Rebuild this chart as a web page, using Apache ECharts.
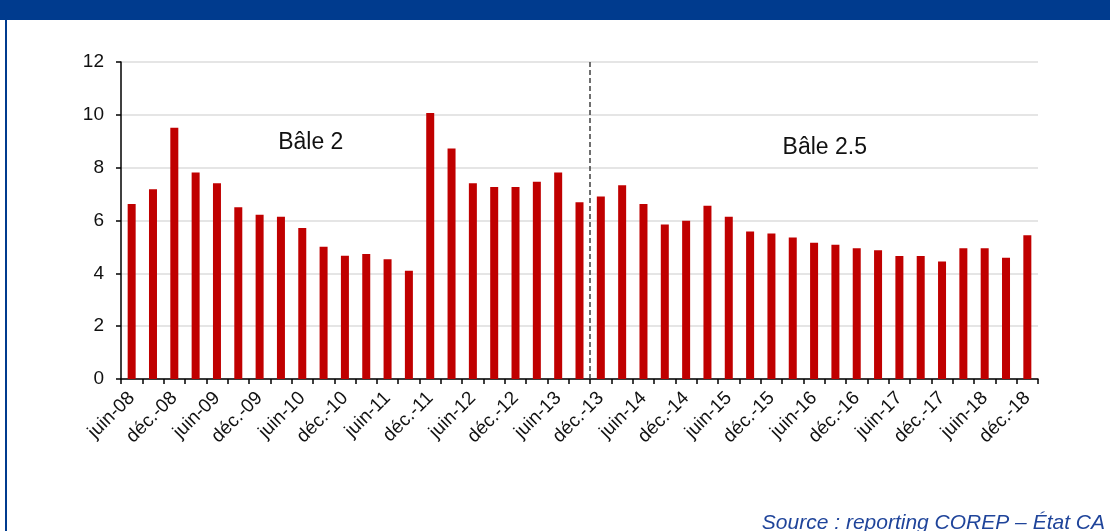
<!DOCTYPE html>
<html>
<head>
<meta charset="utf-8">
<script src="https://cdn.jsdelivr.net/npm/echarts@6/dist/echarts.min.js"></script>
<style>
  html, body { margin: 0; padding: 0; background: #ffffff; }
  #chart { width: 1110px; height: 531px; }
</style>
</head>
<body>
<div id="chart"></div>
<script>
// Quarterly periods, June 2008 to December 2018
const quarters = [
  'juin-08', 'sept.-08', 'déc.-08',
  'mars-09', 'juin-09', 'sept.-09', 'déc.-09',
  'mars-10', 'juin-10', 'sept.-10', 'déc.-10',
  'mars-11', 'juin-11', 'sept.-11', 'déc.-11',
  'mars-12', 'juin-12', 'sept.-12', 'déc.-12',
  'mars-13', 'juin-13', 'sept.-13', 'déc.-13',
  'mars-14', 'juin-14', 'sept.-14', 'déc.-14',
  'mars-15', 'juin-15', 'sept.-15', 'déc.-15',
  'mars-16', 'juin-16', 'sept.-16', 'déc.-16',
  'mars-17', 'juin-17', 'sept.-17', 'déc.-17',
  'mars-18', 'juin-18', 'sept.-18', 'déc.-18'
];

// Ratio per quarter
const ratios = [
  6.62, 7.18, 9.51,
  7.82, 7.41, 6.50, 6.22,
  6.14, 5.72, 5.01, 4.67,
  4.73, 4.53, 4.10, 10.07,
  8.73, 7.41, 7.27, 7.27,
  7.47, 7.82, 6.69, 6.91,
  7.33, 6.62, 5.85, 5.99,
  6.56, 6.14, 5.58, 5.51,
  5.36, 5.16, 5.08, 4.95,
  4.87, 4.66, 4.66, 4.45,
  4.95, 4.95, 4.59, 5.44
];

// Regulatory regime boundary (in category slots) and regime labels [x slot, y value, text]
const regimeBoundary = 22;
const regimeLabels = [
  [8.9, 8.93, 'Bâle 2'],
  [33.0, 8.74, 'Bâle 2.5']
];

const yTicks = { min: 0, max: 12, step: 2 };
const sourceNote = 'Source : reporting COREP – État CA';

const FONT = "'Liberation Sans', Arial, sans-serif";

const chart = echarts.init(document.getElementById('chart'), null, { renderer: 'canvas' });

chart.setOption({
  animation: false,
  backgroundColor: '#ffffff',
  grid: { left: 121, right: 72, top: 62, bottom: 152, containLabel: false },
  xAxis: [
    {
      type: 'category',
      data: quarters,
      boundaryGap: true,
      axisLine: { lineStyle: { color: '#000000', width: 1.5 } },
      axisTick: { show: true, interval: 0, length: 5, lineStyle: { color: '#000000', width: 1.5 } },
      axisLabel: {
        interval: 1,
        rotate: 45,
        margin: 16,
        color: '#111111',
        fontFamily: FONT,
        fontSize: 19
      },
      splitLine: { show: false }
    },
    {
      type: 'value',
      min: 0,
      max: quarters.length,
      show: false
    }
  ],
  yAxis: {
    type: 'value',
    min: yTicks.min,
    max: yTicks.max,
    interval: yTicks.step,
    axisLine: { show: true, lineStyle: { color: '#000000', width: 1.5 } },
    axisTick: { show: true, length: 5, lineStyle: { color: '#000000', width: 1.5 } },
    axisLabel: { margin: 17, color: '#111111', fontFamily: FONT, fontSize: 19 },
    splitLine: { show: true, lineStyle: { color: '#dcdcdc', width: 1.5 } }
  },
  series: [
    {
      type: 'bar',
      data: ratios,
      barWidth: 8,
      itemStyle: { color: '#c00000' },
      z: 2
    },
    {
      type: 'scatter',
      xAxisIndex: 1,
      data: regimeLabels,
      symbolSize: 0,
      silent: true,
      itemStyle: { opacity: 1 },
      label: {
        show: true,
        position: 'inside',
        formatter: p => p.data[2],
        color: '#111111',
        fontFamily: FONT,
        fontSize: 23
      },
      markLine: {
        silent: true,
        symbol: ['none', 'none'],
        label: { show: false },
        lineStyle: { color: '#404040', type: [5, 3], width: 1.5 },
        data: [{ xAxis: regimeBoundary }]
      },
      z: 5
    }
  ],
  graphic: [
    {
      type: 'rect',
      left: 0, top: 0,
      shape: { width: 1110, height: 20 },
      style: { fill: '#003b8e' }
    },
    {
      type: 'rect',
      left: 5, top: 20,
      shape: { width: 2, height: 511 },
      style: { fill: '#003b8e' }
    },
    {
      type: 'text',
      right: 5, bottom: -3,
      style: {
        text: sourceNote,
        fill: '#1f449a',
        font: "italic 21px 'Liberation Sans', Arial, sans-serif",
        textAlign: 'right'
      }
    }
  ]
});
</script>
</body>
</html>
